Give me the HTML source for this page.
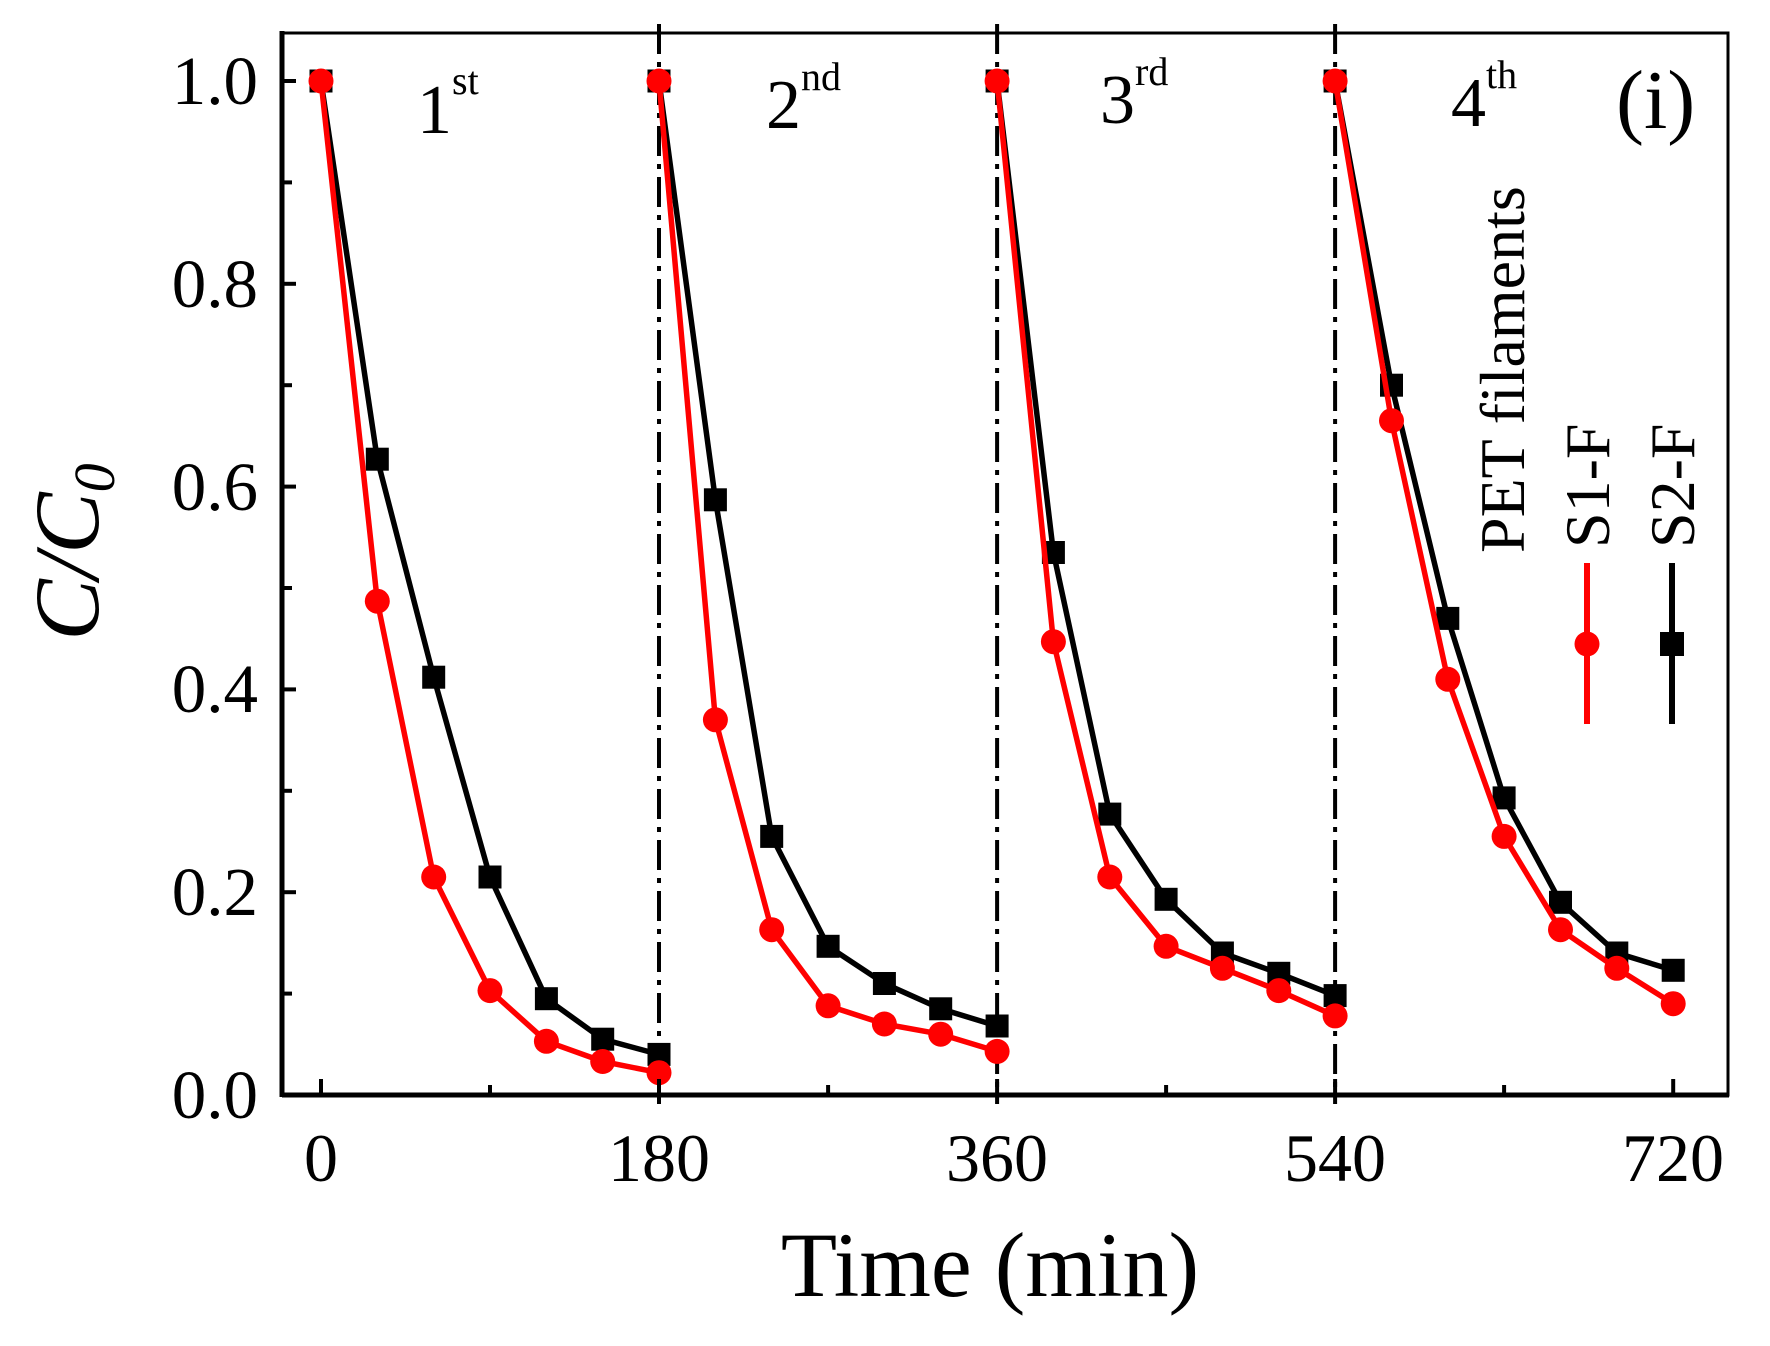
<!DOCTYPE html>
<html><head><meta charset="utf-8">
<style>
html,body{margin:0;padding:0;background:#fff;}
svg{display:block;}
text{font-family:"Liberation Serif",serif;fill:#000;}
</style></head>
<body>
<svg width="1770" height="1346" viewBox="0 0 1770 1346" xmlns="http://www.w3.org/2000/svg">
<defs>
<marker id="sq" markerUnits="userSpaceOnUse" markerWidth="24" markerHeight="24" refX="12" refY="12" overflow="visible"><rect x="0.5" y="0.5" width="23" height="23" fill="#000"/></marker>
<marker id="ci" markerUnits="userSpaceOnUse" markerWidth="26" markerHeight="26" refX="13" refY="13" overflow="visible"><circle cx="13" cy="13" r="12.5" fill="#f00"/></marker>
</defs>
<rect width="1770" height="1346" fill="#fff"/>
<g stroke="#000" stroke-width="4" stroke-dasharray="30 8 5 8">
<line x1="659" y1="24" x2="659" y2="1104"/>
<line x1="997.1" y1="24" x2="997.1" y2="1104"/>
<line x1="1335.1" y1="24" x2="1335.1" y2="1104"/>
</g>
<g fill="none" stroke="#000" stroke-width="5.5" stroke-linejoin="round" marker-start="url(#sq)" marker-mid="url(#sq)" marker-end="url(#sq)">
<polyline points="321,81 377.3,459.2 433.7,677.2 490,877 546.4,998.7 602.7,1039.2 659,1054.4"/>
<polyline points="659,81 715.4,499.8 771.7,836.4 828.1,946.3 884.4,983.5 940.7,1008.8 997.1,1026"/>
<polyline points="997.1,81 1053.4,552.5 1109.8,814.1 1166.1,899.3 1222.4,953 1278.8,973.3 1335.1,995.6"/>
<polyline points="1335.1,81 1391.5,385.2 1447.8,618.4 1504.1,797.9 1560.5,902.3 1616.8,953 1673.2,970.3"/>
</g>
<g fill="none" stroke="#f00" stroke-width="5.5" stroke-linejoin="round" marker-start="url(#ci)" marker-mid="url(#ci)" marker-end="url(#ci)">
<polyline points="321,81 377.3,601.2 433.7,877 490,990.6 546.4,1041.3 602.7,1061.5 659,1072.7"/>
<polyline points="659,81 715.4,719.8 771.7,929.7 828.1,1005.8 884.4,1024 940.7,1034.2 997.1,1051.4"/>
<polyline points="997.1,81 1053.4,641.7 1109.8,877 1166.1,946.3 1222.4,968.3 1278.8,990.6 1335.1,1015.9"/>
<polyline points="1335.1,81 1391.5,420.7 1447.8,679.3 1504.1,836.4 1560.5,929.7 1616.8,968.3 1673.2,1003.7"/>
</g>
<rect x="282" y="33" width="1446" height="1062" fill="none" stroke="#000" stroke-width="3"/>
<line x1="282" y1="1095" x2="1729" y2="1095" stroke="#000" stroke-width="5"/>
<line x1="282" y1="31" x2="282" y2="1097" stroke="#000" stroke-width="5"/>
<g stroke="#000" stroke-width="4">
<line x1="282" y1="1095" x2="296" y2="1095"/>
<line x1="282" y1="993.6" x2="292" y2="993.6"/>
<line x1="282" y1="892.2" x2="296" y2="892.2"/>
<line x1="282" y1="790.8" x2="292" y2="790.8"/>
<line x1="282" y1="689.4" x2="296" y2="689.4"/>
<line x1="282" y1="588" x2="292" y2="588"/>
<line x1="282" y1="486.6" x2="296" y2="486.6"/>
<line x1="282" y1="385.2" x2="292" y2="385.2"/>
<line x1="282" y1="283.8" x2="296" y2="283.8"/>
<line x1="282" y1="182.4" x2="292" y2="182.4"/>
<line x1="282" y1="81" x2="296" y2="81"/>
<line x1="321" y1="1095" x2="321" y2="1079"/>
<line x1="490" y1="1095" x2="490" y2="1085"/>
<line x1="659" y1="1095" x2="659" y2="1079"/>
<line x1="828.1" y1="1095" x2="828.1" y2="1085"/>
<line x1="997.1" y1="1095" x2="997.1" y2="1079"/>
<line x1="1166.1" y1="1095" x2="1166.1" y2="1085"/>
<line x1="1335.1" y1="1095" x2="1335.1" y2="1079"/>
<line x1="1504.1" y1="1095" x2="1504.1" y2="1085"/>
<line x1="1673.2" y1="1095" x2="1673.2" y2="1079"/>
</g>
<g font-size="69" text-anchor="end">
<text x="258" y="1118">0.0</text>
<text x="258" y="915">0.2</text>
<text x="258" y="712">0.4</text>
<text x="258" y="510">0.6</text>
<text x="258" y="307">0.8</text>
<text x="258" y="104">1.0</text>
</g>
<g font-size="68" text-anchor="middle">
<text x="321" y="1181">0</text>
<text x="659" y="1181">180</text>
<text x="997" y="1181">360</text>
<text x="1335" y="1181">540</text>
<text x="1673" y="1181">720</text>
</g>
<text x="990" y="1296" font-size="92" text-anchor="middle">Time (min)</text>
<g transform="translate(98,552) rotate(-90)">
<text x="0" y="0" font-size="92" font-style="italic" text-anchor="middle">C/C<tspan font-size="58" dy="16">0</tspan></text>
</g>
<text x="417" y="133" font-size="70">1<tspan font-size="40" dy="-39">st</tspan></text>
<text x="766" y="128" font-size="70">2<tspan font-size="40" dy="-38">nd</tspan></text>
<text x="1100" y="123" font-size="70">3<tspan font-size="40" dy="-38">rd</tspan></text>
<text x="1451" y="126" font-size="70">4<tspan font-size="40" dy="-38">th</tspan></text>
<text x="1616" y="128" font-size="84">(i)</text>
<g font-size="64">
<text transform="translate(1524,553) rotate(-90)">PET filaments</text>
<text transform="translate(1609,548) rotate(-90)">S1-F</text>
<text transform="translate(1694,548) rotate(-90)">S2-F</text>
</g>
<line x1="1587" y1="563" x2="1587" y2="724" stroke="#f00" stroke-width="6"/>
<circle cx="1587" cy="644" r="12.5" fill="#f00"/>
<line x1="1672" y1="563" x2="1672" y2="724" stroke="#000" stroke-width="6"/>
<rect x="1660" y="632" width="24" height="24" fill="#000"/>
</svg>
</body></html>
